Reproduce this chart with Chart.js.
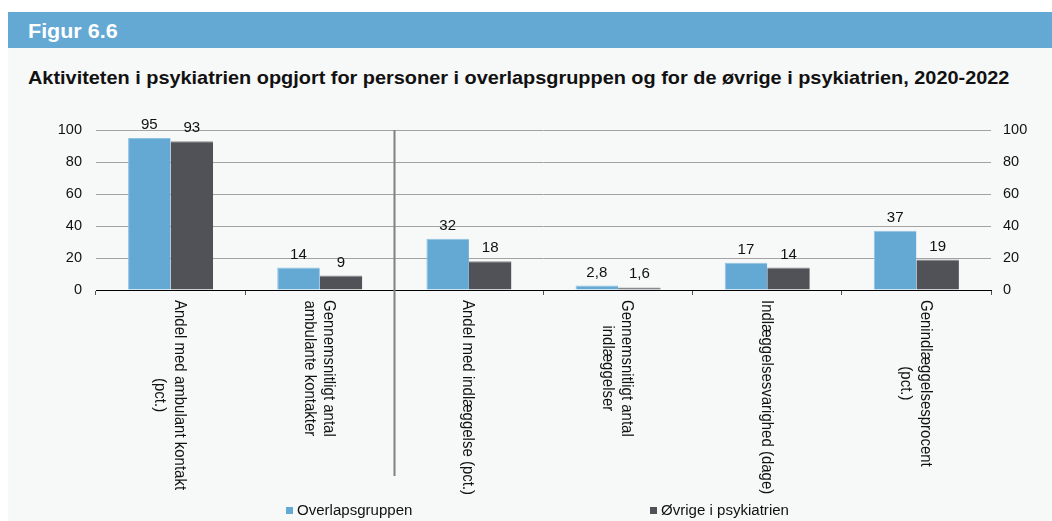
<!DOCTYPE html>
<html lang="da">
<head>
<meta charset="utf-8">
<title>Figur 6.6</title>
<script src="https://cdn.jsdelivr.net/npm/chart.js@4/dist/chart.umd.min.js"></script>
<style>
  html, body { margin: 0; padding: 0; background: #ffffff; }
  body { width: 1052px; height: 521px; position: relative; overflow: hidden;
         font-family: "Liberation Sans", Arial, Helvetica, sans-serif; }
  .panel { position: absolute; left: 8px; top: 12px; right: 0; bottom: 0; background: #f7f8f8; }
  .band { position: absolute; left: 8px; top: 12px; right: 0; height: 36px; background: #63a9d4; }
  .band span { position: absolute; left: 20px; top: 9px; color: #ffffff; font-weight: bold; font-size: 20px;
               line-height: 1; transform: scaleX(1.075); transform-origin: left center; }
  .heading { position: absolute; left: 28px; top: 69px; font-weight: bold; font-size: 18.5px; line-height: 1;
             color: #111; white-space: nowrap; transform: scaleX(1.075); transform-origin: left center; }
  canvas { position: absolute; left: 0; top: 0; }
</style>
</head>
<body>
<div class="panel"></div>
<div class="band"><span>Figur 6.6</span></div>
<div class="heading">Aktiviteten i psykiatrien opgjort for personer i overlapsgruppen og for de øvrige i psykiatrien, 2020-2022</div>
<canvas id="chart" width="1052" height="521"></canvas>
<script>
// Indicator names (each entry is one label, split into lines)
const categories = [
  ["Andel med ambulant kontakt", "(pct.)"],
  ["Gennemsnitligt antal", "ambulante kontakter"],
  ["Andel med indlæggelse (pct.)"],
  ["Gennemsnitligt antal", "indlæggelser"],
  ["Indlæggelsesvarighed (dage)"],
  ["Genindlæggelsesprocent", "(pct.)"]
];
const seriesNames = ["Overlapsgruppen", "Øvrige i psykiatrien"];
const overlapValues = [95, 14, 32, 2.8, 17, 37];
const otherValues = [93, 9, 18, 1.6, 14, 19];
const yTicks = [0, 20, 40, 60, 80, 100];
// the outpatient block ends after this category index
const dividerAfter = 1;

const colors = ["#63a9d4", "#505257"];
const FONT = '"Liberation Sans", Arial, Helvetica, sans-serif';
// the typeface is set slightly wide
const WIDE = 1.075;

const fmt = v => String(v).replace('.', ',');

function wideText(ctx, text, x, y) {
  ctx.save();
  ctx.translate(x, y);
  ctx.scale(WIDE, 1);
  ctx.fillText(text, 0, 0);
  ctx.restore();
}

// Values above bars, rotated category labels, divider and legend
const annotate = {
  id: 'annotate',
  afterDatasetsDraw(chart) {
    const ctx = chart.ctx;
    ctx.save();
    ctx.font = '14px ' + FONT;
    ctx.fillStyle = '#111';
    ctx.textAlign = 'center';
    ctx.textBaseline = 'alphabetic';
    chart.data.datasets.forEach((ds, di) => {
      chart.getDatasetMeta(di).data.forEach((bar, i) => {
        wideText(ctx, fmt(ds.data[i]), bar.x, bar.y - 9);
      });
    });
    ctx.restore();
  },
  afterDraw(chart) {
    const ctx = chart.ctx;
    const xs = chart.scales.x;
    const area = chart.chartArea;
    ctx.save();

    // divider between the outpatient and inpatient indicators
    const dx = Math.round(xs.getPixelForValue(dividerAfter + 0.5)) + 0.5;
    ctx.strokeStyle = '#808080';
    ctx.lineWidth = 2;
    ctx.beginPath();
    ctx.moveTo(dx, area.top);
    ctx.lineTo(dx, 476);
    ctx.stroke();

    // category labels, turned clockwise, reading downwards
    ctx.font = '15px ' + FONT;
    ctx.fillStyle = '#111';
    ctx.textAlign = 'center';
    ctx.textBaseline = 'middle';
    const lineH = 19.5;
    categories.forEach((lines, i) => {
      const cx = xs.getPixelForValue(i) - 1;
      const startY = area.bottom + 10;
      const maxW = Math.max(...lines.map(l => ctx.measureText(l).width));
      ctx.save();
      ctx.translate(cx, startY);
      ctx.scale(WIDE, 1);
      ctx.rotate(Math.PI / 2);
      const n = lines.length;
      lines.forEach((l, k) => {
        const off = (k - (n - 1) / 2) * lineH / WIDE;
        ctx.fillText(l, maxW / 2, off);
      });
      ctx.restore();
    });

    // legend
    const legendItems = [
      { box: 286, text: 297 },
      { box: 650, text: 661 }
    ];
    ctx.font = '14px ' + FONT;
    ctx.textAlign = 'left';
    ctx.textBaseline = 'middle';
    seriesNames.forEach((name, i) => {
      ctx.fillStyle = colors[i];
      ctx.fillRect(legendItems[i].box, 507, 7, 7);
      ctx.fillStyle = '#111';
      wideText(ctx, name, legendItems[i].text, 511);
    });
    ctx.restore();
  }
};

const tickOpts = (padding) => ({
  font: { family: FONT, size: 14.5 },
  color: '#111',
  padding: padding,
  stepSize: 20,
  callback: v => yTicks.includes(v) ? String(v) : ''
});

new Chart(document.getElementById('chart'), {
  type: 'bar',
  data: {
    labels: categories,
    datasets: [
      { label: seriesNames[0], data: overlapValues, backgroundColor: colors[0],
        borderColor: '#8fc2e2', borderWidth: { top: 1, left: 1, right: 0, bottom: 0 }, borderSkipped: false },
      { label: seriesNames[1], data: otherValues, backgroundColor: colors[1],
        borderColor: '#8c8d91', borderWidth: { top: 1, left: 0, right: 0, bottom: 0 }, borderSkipped: false }
    ]
  },
  options: {
    responsive: false,
    animation: false,
    devicePixelRatio: 1,
    categoryPercentage: 0.57,
    barPercentage: 1.0,
    layout: { padding: { left: 56, right: 21, top: 130, bottom: 0 } },
    plugins: { legend: { display: false }, tooltip: { enabled: false } },
    scales: {
      x: {
        ticks: { display: false },
        grid: { drawOnChartArea: false, drawTicks: true, tickLength: 5, color: '#555', offset: true },
        border: { display: true, color: '#000', width: 1 },
        afterFit: s => { s.height = 231; }
      },
      y: {
        position: 'left',
        min: 0, max: 100,
        ticks: tickOpts(14),
        grid: { color: '#a3a3a3', drawTicks: false },
        border: { display: false },
        afterFit: s => { s.width = 40; }
      },
      y2: {
        position: 'right',
        min: 0, max: 100,
        ticks: tickOpts(12),
        grid: { display: false, drawTicks: false },
        border: { display: false },
        afterFit: s => { s.width = 40; }
      }
    }
  },
  plugins: [annotate]
});
</script>
</body>
</html>
